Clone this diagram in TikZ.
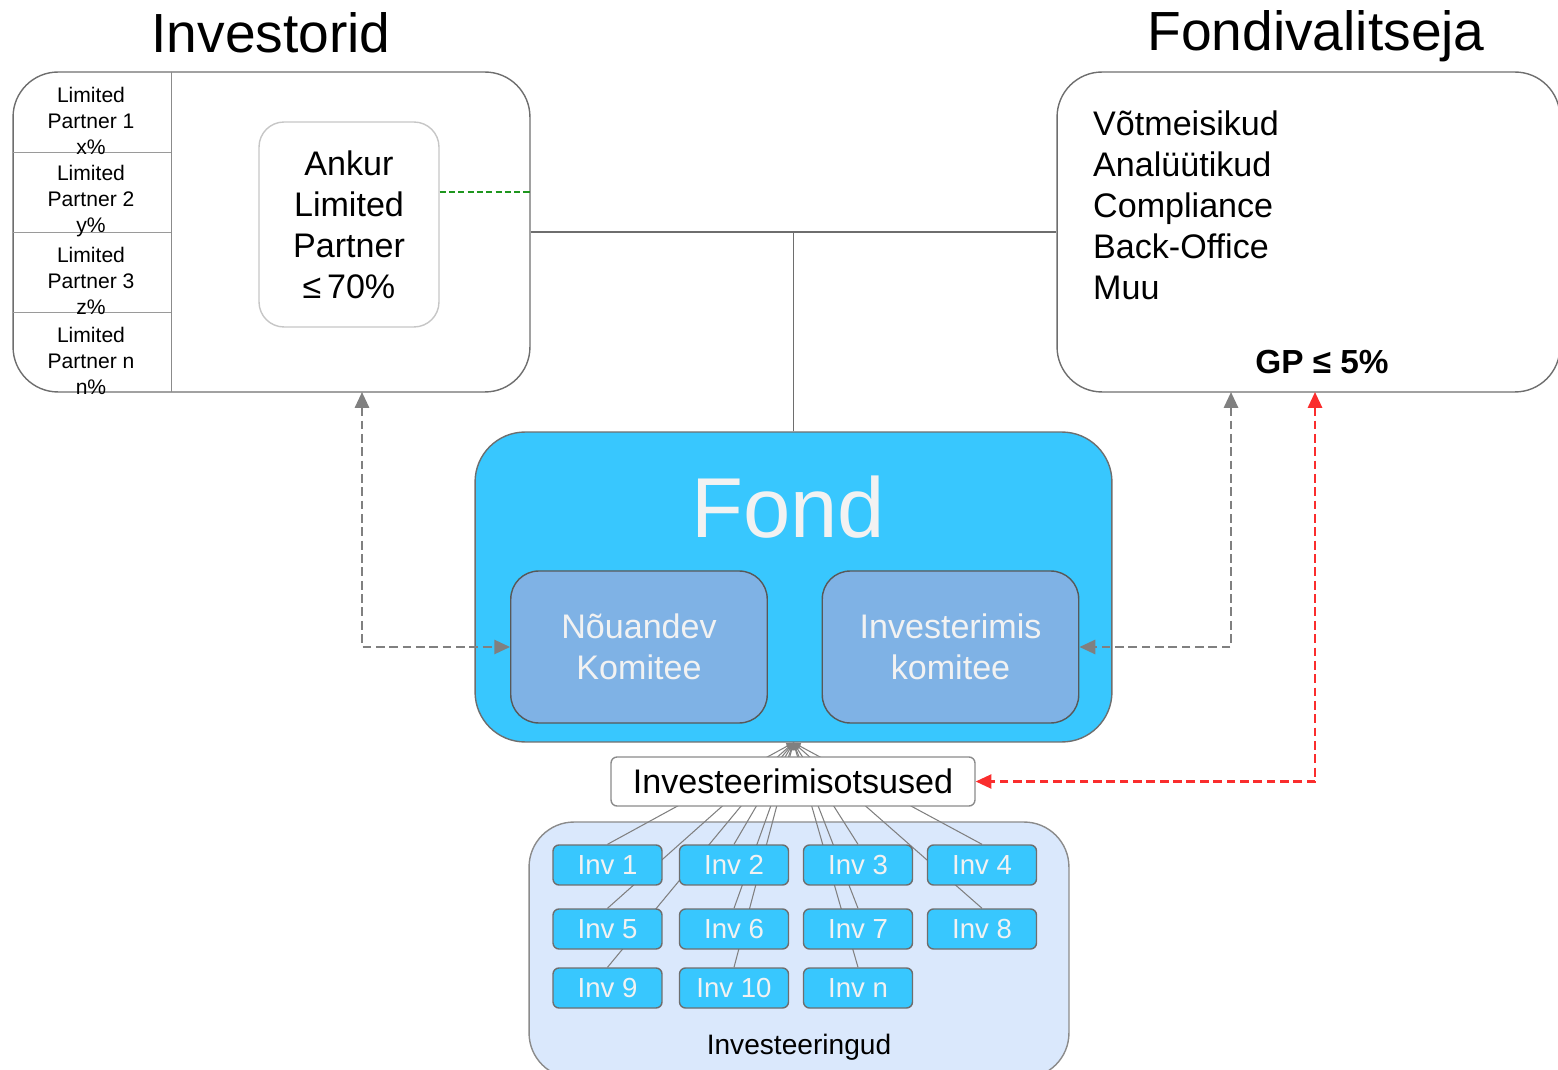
\documentclass[tikz,border=0pt]{standalone}
\usepackage{fontspec}
\setmainfont{Liberation Sans}
\usetikzlibrary{arrows.meta,backgrounds}

\definecolor{fondblue}{RGB}{56,199,254}
\definecolor{komblue}{RGB}{127,178,229}
\definecolor{invbg}{RGB}{218,232,252}
\definecolor{edgegray}{RGB}{110,110,110}
\definecolor{linkgray}{RGB}{128,128,128}
\definecolor{gpred}{RGB}{250,45,45}
\definecolor{lpgreen}{RGB}{30,150,30}
\definecolor{softwhite}{RGB}{242,242,242}

\begin{document}
\begin{tikzpicture}[x=0.02cm,y=-0.02cm,
	>={Triangle[length=9pt,width=8pt]},
	title/.style={font=\fontsize{31.4}{36}\selectfont},
	midtext/.style={font=\fontsize{19.4}{23.3}\selectfont},
	bigbox/.style={draw=edgegray, line width=0.8pt, rounded corners=0.9cm, minimum height=6.4cm},
	lptext/.style={align=center, font=\fontsize{12}{14.8}\selectfont},
	kombox/.style={draw=edgegray!80!black, fill=komblue, line width=0.8pt, rounded corners=0.56cm,
		minimum width=5.13cm, minimum height=3.04cm, align=center, text=softwhite, midtext},
	invbox/.style={draw=edgegray, fill=fondblue, line width=0.8pt, rounded corners=0.12cm,
		minimum width=2.18cm, minimum height=0.8cm, text=softwhite, font=\fontsize{15.7}{18}\selectfont},
	dashlink/.style={<->, dash pattern=on 5pt off 2.6pt, line width=1.4pt},
	fanlink/.style={-{Triangle[length=4pt,width=3.5pt]}, draw=linkgray, line width=0.6pt}
]
\useasboundingbox (0,0) rectangle (1558,1070);

% INVESTORID
\node[title] (invtitle) at (271,33) {Investorid};
\node[bigbox, minimum width=10.34cm] (investorid) at (271.5,232) {};
\draw[edgegray!80] (171,72) -- (171,392);
\foreach \yy in {152,232,312}
	\draw[edgegray!70] (13,\yy) -- (171,\yy);
\foreach \i/\p [count=\k] in {1/x,2/y,3/z,n/n}
	\node[lptext] (lp\i) at (91,{121+80*(\k-1)}) {Limited\\Partner \i\\\p\%};
\node[draw=gray!45, line width=0.8pt, rounded corners=0.5cm, minimum width=3.6cm, minimum height=4.1cm,
	align=center, midtext] (ankur) at (349,224.5) {Ankur\\Limited\\Partner\\≤\,70\%};
\coordinate (ankurtap) at ([yshift=0.65cm]ankur.east);
\draw[lpgreen, dash pattern=on 3.5pt off 1.8pt, line width=1.2pt] (ankurtap) -- (ankurtap -| investorid.east);

% FONDIVALITSEJA
\node[title] (fvtitle) at (1316,36) {Fondivalitseja};
\node[bigbox, minimum width=10.06cm] (fondival) at (1308.5,232) {};
\node[midtext, anchor=west, align=left] (staff) at (1087,205)
	{Võtmeisikud\\Analüütikud\\Compliance\\Back-Office\\Muu};
\node[font=\fontsize{19}{23}\selectfont\bfseries] (gp) at (1322,362) {GP ≤ 5\%};

% FOND
\node[draw=edgegray, fill=fondblue, line width=0.8pt, rounded corners=1cm,
	minimum width=12.74cm, minimum height=6.2cm] (fond) at (793.5,587) {};
\node[text=softwhite, font=\fontsize{48.4}{50}\selectfont] (fondlabel) at (788,507) {Fond};
\node[kombox] (nouandev) at (639,647) {Nõuandev\\Komitee};
\node[kombox] (investkom) at (950.5,647) {Investerimis\\komitee};

\draw[edgegray, line width=0.8pt] (investorid.east) -- (fondival.west);
\draw[edgegray, line width=0.8pt] (fond.north) -- (fond.north |- investorid.east);

% INVESTEERINGUD
\begin{scope}[on background layer]
\node[draw=edgegray!80, fill=invbg, line width=0.8pt, rounded corners=0.9cm,
	minimum width=10.8cm, minimum height=5.12cm] (investeeringud) at (799,950) {};
\end{scope}
\node[font=\fontsize{16}{19}\selectfont] (invlabel) at (799,1047) {Investeeringud};
\foreach \n/\cx/\cy in {1/607.5/865, 2/734/865, 3/858/865, 4/982/865,
	5/607.5/929, 6/734/929, 7/858/929, 8/982/929,
	9/607.5/988, 10/734/988, n/858/988}
	\node[invbox] (inv\n) at (\cx,\cy) {Inv \n};
\node[draw=edgegray!80, fill=white, line width=0.8pt, rounded corners=0.12cm,
	minimum width=7.28cm, minimum height=0.98cm, midtext] (otsused) at (793,781.5) {Investeerimisotsused};
\begin{scope}[on background layer]
\foreach \n in {1,...,10,n}
	\draw[fanlink] (inv\n.north) -- (fond.south);
\end{scope}

% DASHED LINKS
\coordinate (lpfoot) at (362,392);
\coordinate (gpfoot) at (1231,392);
\coordinate (gptip) at (1315,392);
\draw[dashlink, linkgray] (lpfoot) |- (nouandev.west);
\draw[dashlink, linkgray] (gpfoot) |- (investkom.east);
\draw[dashlink, gpred] (gptip) |- (otsused.east);

\end{tikzpicture}
\end{document}
